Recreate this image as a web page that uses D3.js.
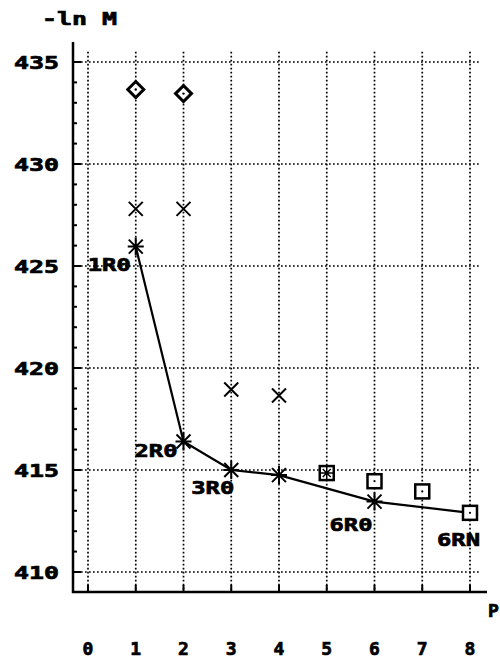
<html>
<meta charset="utf-8">
<head>
	<title>-ln M vs p</title>
	<script src="https://d3js.org/d3.v7.min.js"></script>
</head>
<body style="margin:0;background:#fff">
<svg id="chart" height="661" width="500"></svg>

<script>
	// data
	var xTicks = [0, 1, 2, 3, 4, 5, 6, 7, 8];
	var yTicks = [410, 415, 420, 425, 430, 435];
	var diamondX = [1, 2];
	var diamondY = [433.65, 433.45];
	var crossX = [1, 2, 3, 4];
	var crossY = [427.8, 427.8, 418.95, 418.65];
	var starX = [1, 2, 3, 4, 6];
	var starY = [425.95, 416.4, 415.0, 414.75, 413.45];
	var boxX = [5, 6, 7, 8];
	var boxY = [414.85, 414.45, 413.95, 412.9];
	var lineX = [1, 2, 3, 4, 6, 8];
	var lineY = [425.95, 416.4, 415.0, 414.75, 413.45, 412.9];
	var labelText = ["1R0", "2R0", "3R0", "6R0", "6RN"];
	var labelX = [1, 2, 3, 6, 8];
	var labelY = [425.95, 416.4, 415.0, 413.45, 412.9];

	var svg = d3.select("#chart");
	var font = "'DejaVu Sans Mono', 'Liberation Mono', monospace";

	var x = d3.scaleLinear().domain([0, 8]).range([88, 470]);
	var y = d3.scaleLinear().domain([410, 435]).range([572, 62]);

	var axisX = 73, axisY = 592;

	// bold blocky text like the plotter font
	function heavy(sel) {
		return sel.style("font", "bold 18px " + font)
			.attr("fill", "#000")
			.attr("stroke", "#000")
			.attr("stroke-width", 0.7);
	}

	// dotted grid
	svg.selectAll("line.vgrid").data(xTicks).enter()
		.append("line")
		.attr("x1", function (d) { return x(d); })
		.attr("x2", function (d) { return x(d); })
		.attr("y1", y(435.5))
		.attr("y2", axisY)
		.attr("stroke", "#000")
		.attr("stroke-width", 1.7)
		.attr("stroke-dasharray", "1.7,2.3");

	svg.selectAll("line.hgrid").data(yTicks).enter()
		.append("line")
		.attr("x1", axisX)
		.attr("x2", x(8.2))
		.attr("y1", function (d) { return y(d); })
		.attr("y2", function (d) { return y(d); })
		.attr("stroke", "#000")
		.attr("stroke-width", 1.7)
		.attr("stroke-dasharray", "1.7,2.3");

	// axes
	svg.append("line")
		.attr("x1", axisX).attr("x2", axisX)
		.attr("y1", 42).attr("y2", axisY + 1)
		.attr("stroke", "#000").attr("stroke-width", 2.5);
	svg.append("line")
		.attr("x1", axisX - 1).attr("x2", 487)
		.attr("y1", axisY).attr("y2", axisY)
		.attr("stroke", "#000").attr("stroke-width", 2.5);

	// y ticks, minor every unit
	svg.selectAll("line.ytick").data(d3.range(410, 436)).enter()
		.append("line")
		.attr("x1", axisX)
		.attr("x2", function (d) { return d % 5 === 0 ? axisX + 8 : axisX + 4; })
		.attr("y1", function (d) { return y(d); })
		.attr("y2", function (d) { return y(d); })
		.attr("stroke", "#000").attr("stroke-width", 2);

	svg.selectAll("line.xtick").data(xTicks).enter()
		.append("line")
		.attr("x1", function (d) { return x(d); })
		.attr("x2", function (d) { return x(d); })
		.attr("y1", axisY)
		.attr("y2", axisY - 7)
		.attr("stroke", "#000").attr("stroke-width", 2);

	// tick labels
	heavy(svg.selectAll("text.ylab").data(yTicks).enter()
		.append("text")
		.attr("x", 14)
		.attr("y", function (d) { return y(d) + 7; })
		.attr("textLength", 45)
		.attr("lengthAdjust", "spacingAndGlyphs")
		.text(function (d) { return d; }));

	heavy(svg.selectAll("text.xlab").data(xTicks).enter()
		.append("text")
		.attr("x", function (d) { return x(d); })
		.attr("y", 655)
		.attr("text-anchor", "middle")
		.text(function (d) { return d; }));

	heavy(svg.append("text")
		.attr("x", 42).attr("y", 25)
		.attr("textLength", 75)
		.attr("lengthAdjust", "spacingAndGlyphs")
		.text("-ln M"));

	heavy(svg.append("text")
		.attr("x", 488).attr("y", 617)
		.text("P"));

	// connecting line
	var line = d3.line()
		.x(function (d, i) { return x(lineX[i]); })
		.y(function (d, i) { return y(lineY[i]); });
	svg.append("path")
		.attr("d", line(lineX))
		.attr("fill", "none")
		.attr("stroke", "#000")
		.attr("stroke-width", 2.2);

	var marks = svg.append("g")
		.attr("stroke", "#000")
		.attr("stroke-width", 2)
		.attr("fill", "none");

	// diamonds
	diamondX.forEach(function (d, i) {
		var cx = x(d), cy = y(diamondY[i]);
		marks.append("path")
			.attr("d", "M" + cx + "," + (cy - 8) + "L" + (cx + 8) + "," + cy + "L" + cx + "," + (cy + 8) + "L" + (cx - 8) + "," + cy + "Z")
			.attr("fill", "#fff")
			.attr("stroke-width", 3);
		marks.append("circle").attr("cx", cx).attr("cy", cy).attr("r", 1.2).attr("fill", "#000").attr("stroke", "none");
	});

	// crosses
	crossX.forEach(function (d, i) {
		var cx = x(d), cy = y(crossY[i]);
		marks.append("path")
			.attr("d", "M" + (cx - 7) + "," + (cy - 7) + "L" + (cx + 7) + "," + (cy + 7) + "M" + (cx + 7) + "," + (cy - 7) + "L" + (cx - 7) + "," + (cy + 7));
	});

	// asterisks
	starX.forEach(function (d, i) {
		var cx = x(d), cy = y(starY[i]);
		marks.append("path")
			.attr("d", "M" + (cx - 7) + "," + (cy - 7) + "L" + (cx + 7) + "," + (cy + 7) +
				"M" + (cx + 7) + "," + (cy - 7) + "L" + (cx - 7) + "," + (cy + 7) +
				"M" + cx + "," + (cy - 9) + "L" + cx + "," + (cy + 9) +
				"M" + (cx - 8) + "," + cy + "L" + (cx + 8) + "," + cy);
	});

	// squares
	boxX.forEach(function (d, i) {
		var cx = x(d), cy = y(boxY[i]);
		marks.append("rect")
			.attr("x", cx - 7).attr("y", cy - 7)
			.attr("width", 14).attr("height", 14)
			.attr("fill", "#fff")
			.attr("stroke-width", 2.5);
		if (d === 5) {
			marks.append("path")
				.attr("d", "M" + cx + "," + (cy - 7) + "L" + cx + "," + (cy + 7) +
					"M" + (cx - 7) + "," + cy + "L" + (cx + 7) + "," + cy +
					"M" + (cx - 4) + "," + (cy - 4) + "L" + (cx + 4) + "," + (cy + 4) +
					"M" + (cx + 4) + "," + (cy - 4) + "L" + (cx - 4) + "," + (cy + 4))
				.attr("stroke-width", 1.5);
		} else {
			marks.append("circle").attr("cx", cx).attr("cy", cy).attr("r", 1.1).attr("fill", "#000").attr("stroke", "none");
		}
	});

	// point labels
	var labelDx = [-48, -49, -40, -45, -33];
	var labelDy = [24, 16, 24, 29, 33];
	labelText.forEach(function (t, i) {
		heavy(svg.append("text")
			.attr("x", x(labelX[i]) + labelDx[i])
			.attr("y", y(labelY[i]) + labelDy[i])
			.attr("textLength", 43)
			.attr("lengthAdjust", "spacingAndGlyphs")
			.text(t));
	});
</script>
</body>
</html>
